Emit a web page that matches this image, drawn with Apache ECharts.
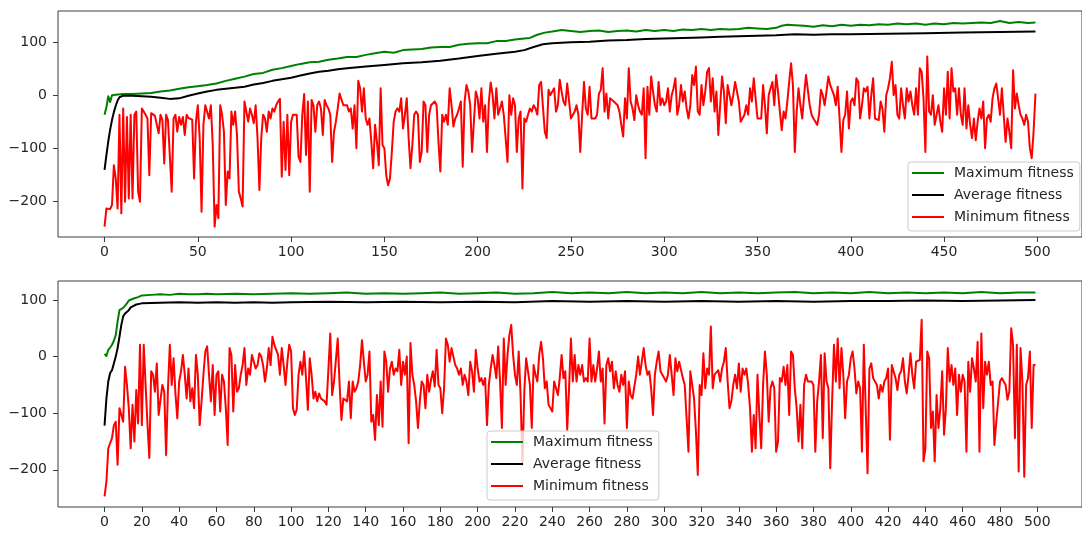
<!DOCTYPE html>
<html>
<head>
<meta charset="utf-8">
<script src="https://cdn.jsdelivr.net/npm/echarts@6/dist/echarts.min.js"></script>
<style>
html, body { margin: 0; padding: 0; background: #fff; }
#chart { width: 1082px; height: 533px; }
</style>
</head>
<body>
<div id="chart"></div>
<script>
// legend names
const names = ['Maximum fitness', 'Average fitness', 'Minimum fitness']

// ---- top run: [generation, fitness] samples of the smooth curves
const topMax = [[0,-36],[1,-22],[2,-1],[3,-12],[4,1],[6,2],[10,3],[15,3],[20,4],[25,5],[30,8],[35,10],[40,13],[45,16],[50,18],[55,20],[60,23],[65,28],[70,32],[75,36],[80,41],[85,43],[90,49],[95,52],[100,56],[105,60],[110,63],[115,64],[120,68],[125,70],[130,73],[135,73],[140,77],[145,80],[150,83],[155,81],[160,86],[165,87],[170,88],[175,91],[180,92],[185,92],[190,96],[195,98],[200,99],[205,99],[210,103],[215,103],[220,106],[225,108],[228,109],[232,115],[236,119],[240,121],[245,124],[250,122],[255,120],[260,122],[265,123],[270,120],[275,122],[280,123],[285,121],[290,124],[295,122],[300,124],[305,122],[310,125],[315,124],[320,126],[325,124],[330,126],[335,125],[340,126],[345,128],[350,127],[355,126],[360,128],[363,132],[366,134],[370,133],[375,132],[380,130],[385,133],[390,131],[395,134],[400,132],[405,134],[410,133],[415,135],[420,134],[425,136],[430,135],[435,136],[440,134],[445,136],[450,135],[455,137],[460,136],[465,137],[470,138],[475,137],[480,141],[485,137],[490,139],[495,137],[499,138]]
const topAvg = [[0,-140],[1,-112],[2,-86],[3,-64],[4,-46],[5,-31],[6,-19],[7,-9],[8,-3],[10,0],[15,0],[20,-1],[25,-2],[30,-4],[35,-6],[40,-5],[45,0],[50,4],[55,8],[60,11],[65,13],[70,15],[75,17],[80,21],[85,24],[90,28],[95,31],[100,34],[105,38],[110,42],[115,45],[120,47],[125,50],[130,52],[140,55],[150,58],[160,61],[170,63],[180,66],[190,70],[200,75],[210,79],[220,83],[225,86],[230,92],[235,97],[240,99],[245,100],[250,101],[260,102],[270,104],[280,105],[290,107],[300,108],[310,109],[320,110],[330,111],[340,112],[350,113],[360,114],[370,116],[380,115],[390,116],[400,116],[420,117],[440,118],[460,119],[480,120],[499,121]]
// minimum fitness, one value per generation 0..499
const topMin = [
-247,-213,-216,-214,-206,-131,-156,-213,-36,-222,
-24,-200,-40,-194,-36,-194,-36,-30,-181,-200,
-24,-30,-36,-43,-150,-33,-36,-38,-35,-71,
-36,-46,-128,-36,-46,-43,-181,-43,-36,-68,
-40,-55,-40,-74,-36,-42,-40,-45,-156,-49,
-18,-80,-219,-55,-18,-18,-43,-18,-93,-247,
-206,-231,-18,-36,-68,-206,-143,-156,-30,-55,
-30,-74,-181,-194,-209,-11,-14,-49,-24,-36,
-52,-18,-80,-178,-80,-36,-43,-68,-30,-43,
-24,-30,-18,-11,-6,-153,-49,-140,-36,-150,
-49,-36,-33,-36,-115,-125,-36,3,-112,-11,
-181,-8,-18,-68,-18,-11,-24,-74,-8,-18,
-24,-36,-125,-68,-49,-24,4,1,-18,-21,
-18,-30,-24,-62,-18,-99,28,14,-30,14,
-43,-55,-43,-87,-137,-55,-87,-131,14,-93,
-99,-150,-169,-156,-106,-49,-30,-24,-30,-5,
-62,-36,-5,-80,-137,-93,-36,-30,-36,-125,
-106,-11,-18,-106,-36,-18,-18,-11,-18,-87,
-143,-36,-49,-36,-55,14,-18,-58,-43,-36,
-24,-11,-134,-11,20,8,-18,-106,-49,8,
-5,-43,14,-49,-18,-106,-11,25,1,-43,
14,-36,-24,-11,-36,-80,-125,1,-36,-5,
-18,-106,-43,-30,-175,-43,-49,-36,-24,-30,
-18,-24,-36,20,26,25,-68,-80,11,1,
8,14,-30,-18,30,8,-11,-18,23,20,
-43,-43,-30,-18,-36,-106,-36,26,-24,-36,
17,-43,-43,-43,-36,4,11,52,-30,4,
-43,-5,-8,-11,-11,-18,-30,-55,-77,-5,
-43,52,-11,-24,-46,1,-18,-30,-36,14,
-118,17,-36,36,8,-18,-30,26,-18,-5,
-18,-11,14,-30,1,14,33,-36,-18,20,
-11,8,-24,-43,-18,39,20,55,-30,-36,
20,-18,8,45,52,-11,33,-30,8,-74,
-18,36,8,-52,20,1,-18,1,26,8,
-11,-49,-49,-36,-18,-36,14,-11,33,-5,
-43,-43,-43,20,-18,-71,1,14,26,-18,
39,8,-30,-65,-30,-43,-11,26,61,20,
-106,-30,14,-18,-43,1,39,39,-18,-36,
-43,-46,-55,-36,11,1,-18,8,36,20,
23,1,-18,17,-43,-106,-46,-36,8,-62,
-11,-5,-18,33,26,-43,-18,14,8,17,
-43,1,33,-43,-43,-46,-11,-24,-68,1,
14,33,64,1,20,-36,-43,14,-18,-43,
14,-11,8,-18,-36,14,-36,52,45,-5,
-106,74,-30,-36,1,-55,-36,-18,-49,-68,
14,-36,45,-43,52,8,14,-36,14,-36,
-55,14,-62,-18,-55,-80,-43,-84,-49,-24,
-43,-11,-99,-43,-36,-49,-5,14,23,-5,
-36,14,17,-87,-43,-68,-99,48,-24,4,
-18,-36,-43,-55,-36,-49,-99,-118,-68,4
]

// ---- bottom run
const botMax = [[0,5],[1,1],[2,12],[3,16],[4,21],[5,28],[6,38],[7,62],[8,82],[9,85],[10,86],[11,88],[12,94],[13,99],[14,102],[16,103],[18,105],[20,108],[25,109],[30,110],[35,109],[40,111],[45,110],[50,110],[55,111],[60,110],[70,111],[80,110],[90,111],[100,112],[110,111],[120,112],[130,113],[140,111],[150,112],[160,111],[170,112],[180,113],[190,111],[200,112],[210,113],[220,111],[230,112],[240,114],[250,112],[260,113],[270,112],[280,114],[290,112],[300,113],[310,112],[320,114],[330,112],[340,113],[350,112],[360,113],[370,114],[380,112],[390,113],[400,112],[410,114],[420,112],[430,113],[440,112],[450,113],[460,112],[470,114],[480,112],[490,113],[499,113]]
const botAvg = [[0,-122],[1,-74],[2,-44],[3,-29],[4,-24],[5,-12],[6,0],[7,15],[8,35],[9,56],[10,71],[11,76],[12,79],[13,82],[14,87],[15,90],[17,92],[20,94],[30,95],[40,96],[50,95],[60,96],[70,95],[80,96],[90,95],[100,96],[120,97],[140,96],[160,97],[180,96],[200,97],[220,96],[240,98],[260,97],[280,98],[300,97],[320,98],[340,97],[360,98],[380,97],[400,98],[420,98],[440,99],[460,98],[480,99],[499,100]]
const botMin = [
-247,-221,-162,-153,-144,-121,-115,-191,-91,-88,
-115,-18,-50,-91,-162,-85,-150,-59,-118,21,
-121,21,-50,-118,-179,-26,-32,-62,-12,-103,
-103,-50,-62,-174,-56,21,-50,-3,-65,-109,
-44,-26,3,-32,-74,-21,-79,-56,-91,3,
-32,-121,-79,-32,9,18,-32,-79,-15,-103,
-32,-26,-97,-32,-44,-91,-156,15,3,-97,
-15,-62,-56,-32,-15,15,-50,-21,-32,3,
-9,-21,-15,6,0,-15,-44,-21,15,-15,
35,21,12,3,-32,15,-15,-50,-9,21,
9,-91,-103,-94,-32,-9,-32,9,-38,-94,
-3,-32,-74,-62,-79,-65,-74,-76,-79,-85,
-85,41,-68,-44,-44,32,-50,-112,-74,-71,
-79,-44,-109,-44,-62,-56,-44,-15,29,-9,
-44,-32,9,-115,-103,-147,-68,-121,-44,-124,
9,-9,-62,-21,-9,-32,-21,-26,12,-50,
-9,-32,0,-153,24,-32,-50,-79,-126,-79,
-44,-50,-91,-32,-62,-41,-26,-53,12,-50,
-56,-100,-56,32,21,-9,15,0,-15,-21,
-32,-21,-50,-32,-44,-68,-9,-26,-62,12,
-21,-44,-38,-50,-38,-121,-50,-21,3,-15,
-38,18,-44,-126,32,-50,3,38,56,3,
-32,-50,9,-68,-191,-62,-3,-26,-50,-126,
-15,-32,-44,3,26,-3,-56,-44,-85,-91,
-97,-44,-44,-68,-38,3,-38,-26,-129,-56,
32,-44,3,-44,-15,-32,-15,-44,-38,-44,
32,-44,-15,-44,-21,9,-44,-21,-118,-15,
-3,-26,-9,-56,-26,-50,-62,-32,-50,-26,
-126,-44,-68,-74,-74,-32,0,-32,-32,15,
-15,-32,-26,-56,-103,-32,-9,9,-26,-32,
-38,-44,-32,3,-32,-68,-3,-26,-9,-9,
-38,-50,-109,-168,-26,-24,-74,-132,-209,-50,
-68,6,-56,-21,-32,53,-56,-32,-32,-24,
-44,-21,-9,15,-44,-91,-79,-50,-32,-56,
-12,-62,-21,-32,-21,-50,-91,-168,-103,-162,
-32,-103,-162,-50,9,-32,-115,-56,-44,-56,
-168,-150,-38,-44,-18,-50,-15,-103,9,3,
-56,-91,-150,-85,-162,-50,-32,-44,-44,-44,
-50,-168,-79,-44,3,-144,6,-44,-56,-197,
-79,21,-44,32,-56,15,-32,-109,-44,-32,
-3,9,-21,-65,-44,-56,-168,21,-91,-206,
-21,-12,-38,-41,-50,-74,-50,-62,-44,-38,
-21,-147,-15,-15,-38,-59,-32,-26,-3,-44,
-65,-32,6,-32,-56,-9,-6,-6,65,-185,
-162,9,-3,-126,-97,-185,-68,-126,-91,-26,
-138,-91,15,-44,-15,-50,-21,-103,-32,-62,
-32,-44,-168,-9,-62,-3,-21,-44,26,-168,
41,-91,-9,-32,-9,-50,-44,-156,-115,-115,
-44,-38,-44,-50,-76,-62,50,21,-144,21,
-203,15,-44,-212,-50,-38,9,-126,-15,-15
]

// tick values
const topXTicks = [0, 50, 100, 150, 200, 250, 300, 350, 400, 450, 500]
const botXTicks = [0, 20, 40, 60, 80, 100, 120, 140, 160, 180, 200, 220, 240, 260, 280, 300, 320, 340, 360, 380, 400, 420, 440, 460, 480, 500]
const yTicks = [-200, -100, 0, 100]

const font = 'DejaVu Sans'
const frame = '#3c3c3c'
const txt = '#262626'

function withGen(vals) {
    return vals.map((v, i) => [i, v])
}

function xAxis(idx, ticks) {
    return {
        type: 'value', gridIndex: idx, min: -24.95, max: 523.95, position: 'bottom',
        axisLine: { show: false, onZero: false },
        splitLine: { show: false },
        axisTick: { show: true, inside: false, length: 5, customValues: ticks, lineStyle: { color: frame, width: 1 } },
        axisLabel: { customValues: ticks, margin: 8, fontFamily: font, fontSize: 14, color: txt }
    }
}

function yAxis(idx, min, max) {
    return {
        type: 'value', gridIndex: idx, min: min, max: max, position: 'left',
        axisLine: { show: false, onZero: false },
        splitLine: { show: false },
        axisTick: { show: true, inside: false, length: 5, customValues: yTicks, lineStyle: { color: frame, width: 1 } },
        axisLabel: {
            customValues: yTicks, margin: 11, fontFamily: font, fontSize: 14, color: txt,
            formatter: v => String(v).replace('-', '\u2212')
        }
    }
}

function line(name, idx, data, color) {
    return {
        name: name, type: 'line', xAxisIndex: idx, yAxisIndex: idx,
        data: data, symbol: 'none', showSymbol: false,
        lineStyle: { color: color, width: 2, join: 'round' },
        itemStyle: { color: color }
    }
}

function legend(left, top) {
    return {
        data: names, orient: 'vertical', left: left, top: top,
        icon: 'rect', itemWidth: 32, itemHeight: 2, itemGap: 6,
        padding: [3, 6, 6, 4],
        backgroundColor: 'rgba(255,255,255,0.8)',
        borderColor: '#cccccc', borderWidth: 1, borderRadius: 3,
        selectedMode: false,
        textStyle: { fontFamily: font, fontSize: 14, color: txt, lineHeight: 16, padding: [0, 0, 0, 5] }
    }
}

const chart = echarts.init(document.getElementById('chart'))
chart.setOption({
    animation: false,
    backgroundColor: '#fff',
    grid: [
        { left: 58, top: 11, width: 1034, height: 226, show: true, borderColor: frame, borderWidth: 1, backgroundColor: 'transparent' },
        { left: 58, top: 281, width: 1034, height: 226, show: true, borderColor: frame, borderWidth: 1, backgroundColor: 'transparent' }
    ],
    xAxis: [xAxis(0, topXTicks), xAxis(1, botXTicks)],
    yAxis: [yAxis(0, -266.6, 159.8), yAxis(1, -265.6, 133.5)],
    legend: [legend(908, 162), legend(487, 431)],
    series: [
        line(names[0], 0, topMax, '#008000'),
        line(names[1], 0, topAvg, '#000000'),
        line(names[2], 0, withGen(topMin), '#ff0000'),
        line(names[0], 1, botMax, '#008000'),
        line(names[1], 1, botAvg, '#000000'),
        line(names[2], 1, withGen(botMin), '#ff0000')
    ]
})
</script>
</body>
</html>
